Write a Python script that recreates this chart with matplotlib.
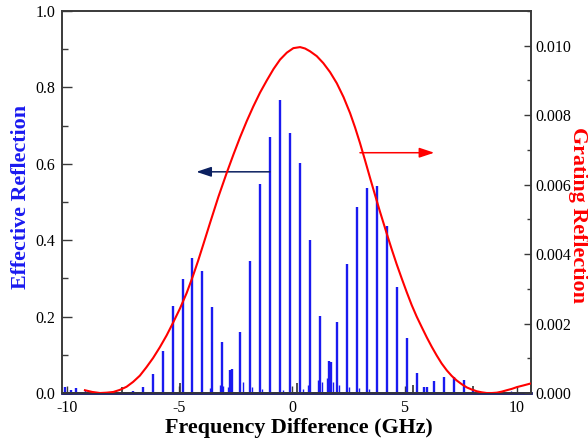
import matplotlib
matplotlib.use("Agg")
import matplotlib.pyplot as plt
from matplotlib.ticker import MultipleLocator, FormatStrFormatter

plt.rcParams['font.family'] = ['Liberation Serif', 'DejaVu Serif']
plt.rcParams['axes.unicode_minus'] = False

# Effective reflection: main comb peaks (GHz, height)
peak_x = [-10.09, -9.82, -9.61, -7.07, -6.64, -6.19, -5.75, -5.30, -4.86, -4.43,
          -3.99, -3.54, -3.10, -2.76, -2.65, -2.31, -1.87, -1.42, -0.98, -0.53,
          -0.09, 0.34, 0.79, 1.23, 1.64, 1.72, 2.00, 2.44, 2.88, 3.32,
          3.76, 4.21, 4.65, 5.10, 5.54, 5.87, 5.99, 6.32, 6.77, 7.21,
          7.66, 8.06]
peak_h = [0.017, 0.007, 0.013, 0.006, 0.015, 0.049, 0.110, 0.229, 0.298, 0.353,
          0.319, 0.225, 0.134, 0.060, 0.064, 0.159, 0.346, 0.547, 0.669, 0.767,
          0.680, 0.603, 0.401, 0.202, 0.084, 0.081, 0.186, 0.338, 0.486, 0.536,
          0.543, 0.437, 0.277, 0.145, 0.052, 0.016, 0.016, 0.031, 0.042, 0.043,
          0.033, 0.010]

# small side structure near the base
grass_x = [-9.2, -3.66, -3.20, -3.05, -2.86, -2.19, -1.78, -1.33, -0.42, 0.47,
           0.71, 1.15, 1.35, 1.55, 1.82, 2.08, 2.55, 2.98, 3.42, 9.30, 9.75]
grass_h = [0.008, 0.012, 0.020, 0.018, 0.015, 0.030, 0.015, 0.010, 0.008, 0.010,
           0.020, 0.034, 0.030, 0.040, 0.030, 0.022, 0.015, 0.012, 0.010, 0.004, 0.004]

# faint dark trace showing through
dark_x = [-7.57, -4.98, 0.21, 5.39, 8.06]
dark_h = [0.015, 0.025, 0.025, 0.022, 0.018]

base_x = [-10.22, 10.62]
base_y = [0.0, 0.0]

# Grating reflection curve (right axis)
grat_x = [-9.20, -8.87, -8.53, -8.24, -7.94, -7.65, -7.35, -7.06, -6.76, -6.47,
          -6.17, -5.87, -5.57, -5.28, -4.98, -4.68, -4.39, -4.17, -3.94, -3.64,
          -3.27, -2.90, -2.60, -2.31, -2.01, -1.72, -1.42, -1.12, -0.82, -0.53,
          -0.23, 0.06, 0.36, 0.58, 0.80, 1.10, 1.39, 1.69, 1.99, 2.29,
          2.58, 2.80, 3.02, 3.25, 3.47, 3.69, 3.91, 4.21, 4.43, 4.65,
          4.88, 5.10, 5.32, 5.54, 5.77, 5.99, 6.21, 6.43, 6.65, 6.88,
          7.10, 7.32, 7.55, 7.77, 7.99, 8.21, 8.43, 8.65, 8.88, 9.10,
          9.32, 9.54, 9.77, 9.99, 10.29, 10.58]
grat_y = [0.00008, 0.00003, 0.0, 0.00001, 0.00003, 0.00009, 0.00018, 0.00032, 0.00050, 0.00074,
          0.00101, 0.00132, 0.00166, 0.00203, 0.00243, 0.00288, 0.00339, 0.00381, 0.00428, 0.00490,
          0.00565, 0.00634, 0.00687, 0.00736, 0.00783, 0.00825, 0.00865, 0.00900, 0.00933, 0.00960,
          0.00980, 0.00993, 0.00996, 0.00992, 0.00984, 0.00970, 0.00950, 0.00924, 0.00892, 0.00852,
          0.00806, 0.00765, 0.00720, 0.00669, 0.00619, 0.00570, 0.00522, 0.00459, 0.00414, 0.00371,
          0.00329, 0.00290, 0.00253, 0.00220, 0.00189, 0.00160, 0.00133, 0.00108, 0.00085, 0.00065,
          0.00049, 0.00036, 0.00025, 0.00016, 0.00010, 0.00005, 0.00002, 0.0, 0.0, 0.00001,
          0.00004, 0.00008, 0.00012, 0.00017, 0.00022, 0.00027]

blue = '#1a1af0'
spine_c = '#3a3a3a'

fig = plt.figure(figsize=(5.88, 4.41), dpi=100)
ax = fig.add_axes([0.1054, 0.1088, 0.7977, 0.8663])
ax2 = ax.twinx()

ax.vlines(grass_x, 0, grass_h, color=blue, lw=1.0, zorder=2)
ax.vlines(dark_x, 0, dark_h, color='#303030', lw=1.2, zorder=2)
ax.vlines(peak_x, 0, peak_h, color=blue, lw=1.7, zorder=3)
ax.plot(base_x, base_y, color='#101060', lw=2.0, zorder=3, clip_on=False)

ax2.plot(grat_x, grat_y, color='#ff0000', lw=1.5, zorder=4)

ax.annotate('', xy=(-4.25, 0.579), xytext=(-0.98, 0.579),
            arrowprops=dict(arrowstyle='-|>,head_length=0.9,head_width=0.3',
                            color='#0b2060', lw=1.1, shrinkA=0, shrinkB=0))
ax.annotate('', xy=(6.32, 0.629), xytext=(3.02, 0.629),
            arrowprops=dict(arrowstyle='-|>,head_length=0.9,head_width=0.3',
                            color='#ff0000', lw=1.1, shrinkA=0, shrinkB=0))

ax.set_xlim(-10.22, 10.62)
ax.set_ylim(0, 1.0)
ax2.set_ylim(0, 0.0110)

ax.set_xticks([-10, -5, 0, 5, 10])
ax.set_xticklabels(['-10', '-5', '0', '5', '10'])
ax.yaxis.set_major_locator(MultipleLocator(0.2))
ax.yaxis.set_minor_locator(MultipleLocator(0.1))
ax.yaxis.set_major_formatter(FormatStrFormatter('%.1f'))
ax2.yaxis.set_major_locator(MultipleLocator(0.002))
ax2.yaxis.set_minor_locator(MultipleLocator(0.001))
ax2.yaxis.set_major_formatter(FormatStrFormatter('%.3f'))

for a in (ax, ax2):
    for s in a.spines.values():
        s.set_color(spine_c)
        s.set_linewidth(1.2)
ax.tick_params(axis='x', direction='in', length=5, width=1.0, color=spine_c,
               labelsize=11.5, pad=5, top=False)
ax.tick_params(axis='y', which='major', direction='in', length=7, width=1.0,
               color=spine_c, labelsize=11.5, pad=5)
ax.tick_params(axis='y', which='minor', direction='in', length=4, width=1.0, color=spine_c)
ax2.tick_params(axis='y', which='major', direction='in', length=5, width=1.0,
                color=spine_c, labelsize=11.5, pad=3)
ax2.tick_params(axis='y', which='minor', direction='in', length=3, width=1.0, color=spine_c)

ax.set_xlabel('Frequency Difference (GHz)', fontsize=15.8, fontweight='bold')
ax.xaxis.set_label_coords(0.505, -0.092)
ax.xaxis.label.set_va('center')
ax.set_ylabel('Effective Reflection', fontsize=15.8, fontweight='bold', color=blue)
ax.yaxis.set_label_coords(-0.087, 0.514)
ax.yaxis.label.set_va('center')
ax2.set_ylabel('Grating Reflection', fontsize=15.8, fontweight='bold', color='#ff0000',
               rotation=270)
ax2.yaxis.set_label_coords(1.100, 0.465)
ax2.yaxis.label.set_va('center')

fig.savefig('out.png', dpi=100)
